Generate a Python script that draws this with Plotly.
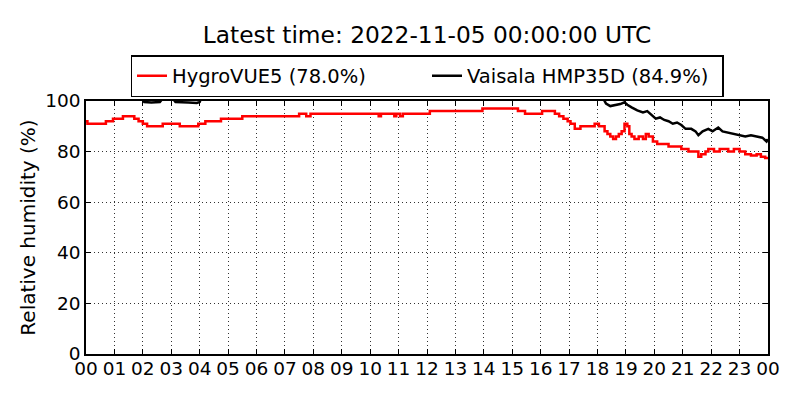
import pandas as pd
import plotly.graph_objects as go

# Hours since midnight and relative humidity (%)
red_hours = [0.0, 0.05, 0.7, 0.95, 1.3, 1.7, 1.85, 2.0, 2.15, 2.7, 3.3, 3.95, 4.2, 4.75, 5.5,
             7.5, 7.75, 7.9, 10.3, 10.38, 10.85, 10.92, 11.05, 11.15, 12.1, 13.95, 15.2, 15.45,
             16.05, 16.5, 16.65, 16.8, 16.95, 17.05, 17.2, 17.4, 17.9, 18.05, 18.25, 18.35,
             18.45, 18.55, 18.65, 18.75, 18.85, 18.95, 19.05, 19.12, 19.2, 19.3, 19.45, 19.6,
             19.7, 19.8, 19.95, 20.1, 20.5, 20.95, 21.2, 21.55, 21.65, 21.8, 21.9, 22.1, 22.3,
             22.6, 22.8, 23.0, 23.2, 23.4, 23.6, 23.75, 23.9, 24.0]
red_rh = [92, 91, 92, 93, 94, 93, 92, 91, 90, 91, 90, 91, 92, 93, 94,
          95, 94, 95, 94, 95, 94, 95, 94, 95, 96, 97, 96, 95,
          96, 95, 94, 93, 92, 91, 89, 90, 91, 90, 88, 87,
          86, 85, 86, 87, 88, 91, 90, 87, 86, 85, 86, 85,
          87, 86, 84, 83, 82, 81, 80, 78, 79, 80, 81, 80, 81,
          80, 81, 80, 79, 78.5, 79, 78, 77.5, 78]

black_hours = [0.0, 1.95, 2.05, 2.3, 2.6, 2.7, 3.05, 3.15, 3.6, 3.9, 4.0, 4.05, 18.2, 18.3,
               18.45, 18.6, 18.8, 18.95, 19.05, 19.2, 19.4, 19.6, 19.75, 19.9, 20.05, 20.2,
               20.35, 20.5, 20.65, 20.8, 20.95, 21.1, 21.3, 21.45, 21.55, 21.7, 21.9, 22.05,
               22.25, 22.4, 22.6, 22.8, 23.0, 23.2, 23.4, 23.6, 23.8, 23.95, 24.0]
black_rh = [101, 101, 99.6, 99.4, 99.6, 101, 101, 99.6, 99.4, 99.2, 99.6, 101, 101, 99,
            98, 98.3, 98.8, 99.5, 98.5, 97.5, 96.3, 95.5, 96, 94.5, 93, 93.5,
            92.5, 92, 91, 91.5, 90.5, 89, 89, 88, 86.5, 88, 89, 88,
            89.5, 88, 87.5, 87, 86.5, 86, 86.5, 86, 85.5, 84, 84.9]

day = pd.Timestamp("2022-11-04")
red_t = day + pd.to_timedelta(red_hours, unit="h")
black_t = day + pd.to_timedelta(black_hours, unit="h")

font = "DejaVu Sans"
# page body adds an 8px offset, so the figure is a bit smaller than the window
W, H = 792, 392

fig = go.Figure()
fig.add_trace(go.Scatter(x=red_t, y=red_rh, mode="lines", line_shape="hv",
                         line=dict(color="red", width=2.5),
                         name="HygroVUE5 (%.1f%%)" % red_rh[-1]))
fig.add_trace(go.Scatter(x=black_t, y=black_rh, mode="lines",
                         line=dict(color="black", width=2.5),
                         name="Vaisala HMP35D (%.1f%%)" % black_rh[-1]))

axis_common = dict(showline=True, linecolor="black", linewidth=1.5, mirror="allticks",
                   ticks="inside", ticklen=5, tickcolor="black",
                   showgrid=True, gridcolor="#333", gridwidth=1, griddash="1px,3px",
                   zeroline=False, automargin=False,
                   tickfont=dict(size=18.5, color="black"))

fig.update_xaxes(range=[day, day + pd.Timedelta(hours=24)], dtick=3600000,
                 tickformat="%H", ticklabelstandoff=-3, **axis_common)
fig.update_yaxes(range=[0, 100], dtick=20,
                 title=dict(text="Relative humidity (%)", font=dict(size=20, color="black"),
                            standoff=4),
                 **axis_common)

fig.update_layout(
    width=W, height=H,
    font=dict(family=font, color="black"),
    paper_bgcolor="white", plot_bgcolor="white",
    margin=dict(l=78, r=32, t=93, b=46),
    title=dict(text="Latest time: 2022-11-05 00:00:00 UTC", x=419 / W, xanchor="center",
               xref="container", y=1 - 27 / H, yanchor="middle",
               font=dict(size=23.3, color="black")),
    legend=dict(orientation="h", x=419 / W, xanchor="center", xref="container",
                y=1 - 47 / H, yanchor="top", yref="container",
                bordercolor="black", borderwidth=1.5, font=dict(size=19.5),
                entrywidth=250, bgcolor="white"),
    showlegend=True,
)

fig.write_html("out.html")
